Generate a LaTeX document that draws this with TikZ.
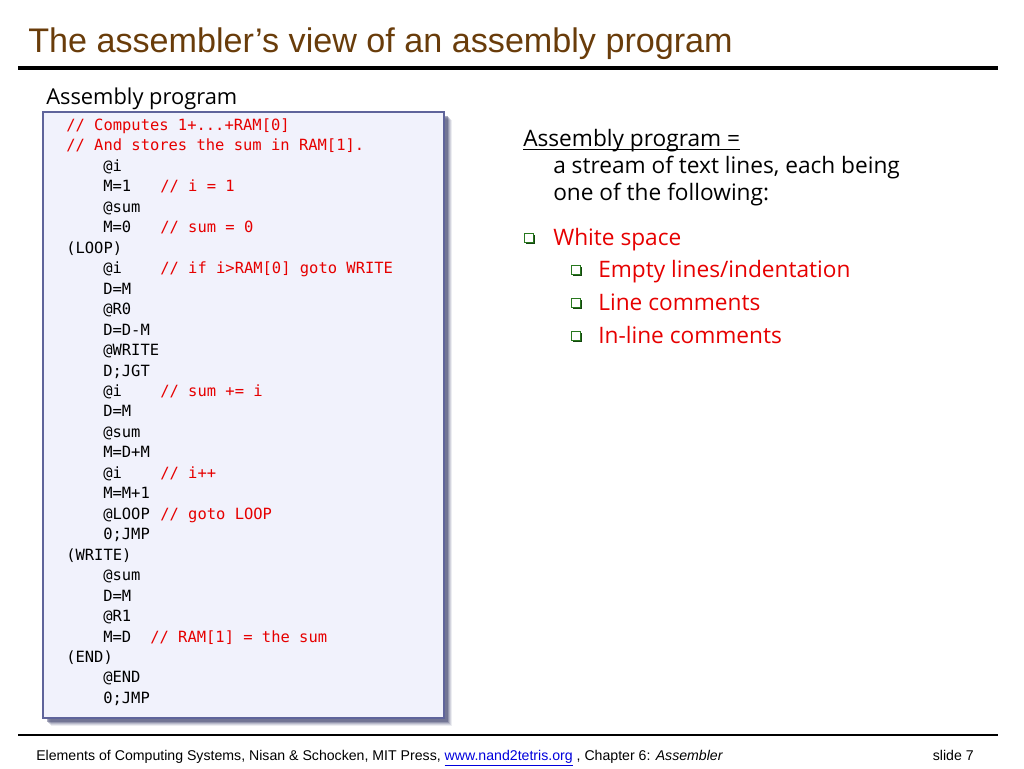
\documentclass[tikz,border=0pt]{standalone}
\usepackage{fontspec}
\setmainfont{Liberation Sans}
\newfontfamily\codefont{DejaVu Sans Mono}
\newfontfamily\comicfont{Open Sans}
\usetikzlibrary{shadows}
\definecolor{titlebrown}{RGB}{105,60,10}
\definecolor{cred}{RGB}{230,0,0}
\definecolor{boxfill}{RGB}{241,242,252}
\definecolor{boxdraw}{RGB}{95,100,155}
\definecolor{boxshadow}{RGB}{70,74,115}
\definecolor{bgreen}{RGB}{40,120,30}
\definecolor{bgreendark}{RGB}{20,70,15}
\definecolor{linkblue}{RGB}{0,0,220}
\newcommand\ly[1]{130.5+20.46*#1}
\tikzset{
  code/.style={anchor=base west, inner sep=0pt, font=\codefont\fontsize{11.6}{14}\selectfont},
  cmt/.style={code, text=cred},
  comic/.style={anchor=base west, inner sep=0pt, font=\comicfont\fontsize{17}{20}\selectfont},
  redtxt/.style={comic, text=cred},
  bul/.style={draw=bgreen, fill=white, line width=1.2pt, minimum size=7pt, inner sep=0pt,
    drop shadow={shadow xshift=1pt, shadow yshift=-1pt, fill=bgreendark, opacity=1}},
  rule/.style={line width=#1, black},
}
\begin{document}
\begin{tikzpicture}[x=0.75pt,y=-0.75pt]
\useasboundingbox (0,0) rectangle (1024,768);
% title
\node[anchor=base west, inner sep=0pt, text=titlebrown, font=\fontsize{25.6}{30}\selectfont] (title) at (28,52) {The assembler’s view of an assembly program};
\coordinate (r1a) at (18,68);
\coordinate (r1b) at (998,68);
\draw[rule=2.4pt] (r1a) -- (r1b);
% left label
\node[comic, font=\comicfont\fontsize{16.4}{20}\selectfont] (lbl) at (46,104) {Assembly program};
% code box with shadow
\foreach \k/\o in {9/0.10,8/0.15,7/0.2,6/0.3,5/0.45}{
  \fill[boxshadow, opacity=\o] (42+\k,111+\k) rectangle (443+\k,717+\k);
}
\node[draw=boxdraw, fill=boxfill, line width=1.6pt, inner sep=0pt, anchor=north west,
  minimum width=401*0.75pt, minimum height=606*0.75pt] (box) at (42,111) {};
% code lines
\node[cmt] (c0) at (66,\ly{0}) {// Computes 1+...+RAM[0]};
\node[cmt] (c1) at (66,\ly{1}) {// And stores the sum in RAM[1].};
\node[code] (c2) at (103,\ly{2}) {@i};
\node[code] (c3) at (103,\ly{3}) {M=1};
\node[cmt] (m3) at (160,\ly{3}) {// i = 1};
\node[code] (c4) at (103,\ly{4}) {@sum};
\node[code] (c5) at (103,\ly{5}) {M=0};
\node[cmt] (m5) at (160,\ly{5}) {// sum = 0};
\node[code] (c6) at (66,\ly{6}) {(LOOP)};
\node[code] (c7) at (103,\ly{7}) {@i};
\node[cmt] (m7) at (160,\ly{7}) {// if i>RAM[0] goto WRITE};
\node[code] (c8) at (103,\ly{8}) {D=M};
\node[code] (c9) at (103,\ly{9}) {@R0};
\node[code] (c10) at (103,\ly{10}) {D=D-M};
\node[code] (c11) at (103,\ly{11}) {@WRITE};
\node[code] (c12) at (103,\ly{12}) {D;JGT};
\node[code] (c13) at (103,\ly{13}) {@i};
\node[cmt] (m13) at (160,\ly{13}) {// sum += i};
\node[code] (c14) at (103,\ly{14}) {D=M};
\node[code] (c15) at (103,\ly{15}) {@sum};
\node[code] (c16) at (103,\ly{16}) {M=D+M};
\node[code] (c17) at (103,\ly{17}) {@i};
\node[cmt] (m17) at (160,\ly{17}) {// i++};
\node[code] (c18) at (103,\ly{18}) {M=M+1};
\node[code] (c19) at (103,\ly{19}) {@LOOP};
\node[cmt] (m19) at (160,\ly{19}) {// goto LOOP};
\node[code] (c20) at (103,\ly{20}) {0;JMP};
\node[code] (c21) at (66,\ly{21}) {(WRITE)};
\node[code] (c22) at (103,\ly{22}) {@sum};
\node[code] (c23) at (103,\ly{23}) {D=M};
\node[code] (c24) at (103,\ly{24}) {@R1};
\node[code] (c25) at (103,\ly{25}) {M=D};
\node[cmt] (m25) at (150,\ly{25}) {// RAM[1] = the sum};
\node[code] (c26) at (66,\ly{26}) {(END)};
\node[code] (c27) at (103,\ly{27}) {@END};
\node[code] (c28) at (103,\ly{28}) {0;JMP};
% right side
\node[comic] (def) at (523,146) {Assembly program =};
\draw[line width=0.9pt] ([yshift=-2.8pt]def.base west) -- ([yshift=-2.8pt]def.base east);
\node[comic] (def2) at (553,173) {a stream of text lines, each being};
\node[comic] (def3) at (553,200) {one of the following:};
\node[bul] (b1) at (529,238) {};
\node[redtxt] (t1) at (553,245) {White space};
\node[bul] (b2) at (576,270) {};
\node[redtxt] (t2) at (598,277) {Empty lines/indentation};
\node[bul] (b3) at (576,303) {};
\node[redtxt] (t3) at (598,310) {Line comments};
\node[bul] (b4) at (576,336) {};
\node[redtxt] (t4) at (598,343) {In-line comments};
% footer
\coordinate (r2a) at (18,735);
\coordinate (r2b) at (998,735);
\draw[rule=1.5pt] (r2a) -- (r2b);
\node[anchor=base west, inner sep=0pt, font=\fontsize{10.6}{12}\selectfont] (foot) at (36,760)
  {Elements of Computing Systems, Nisan \& Schocken, MIT Press, \textcolor{linkblue}{\underline{www.nand2tetris.org}} , Chapter 6: \textit{Assembler}};
\node[anchor=base east, inner sep=0pt, font=\fontsize{10.6}{12}\selectfont] (slide) at (974,760) {slide 7};
\end{tikzpicture}
\end{document}
